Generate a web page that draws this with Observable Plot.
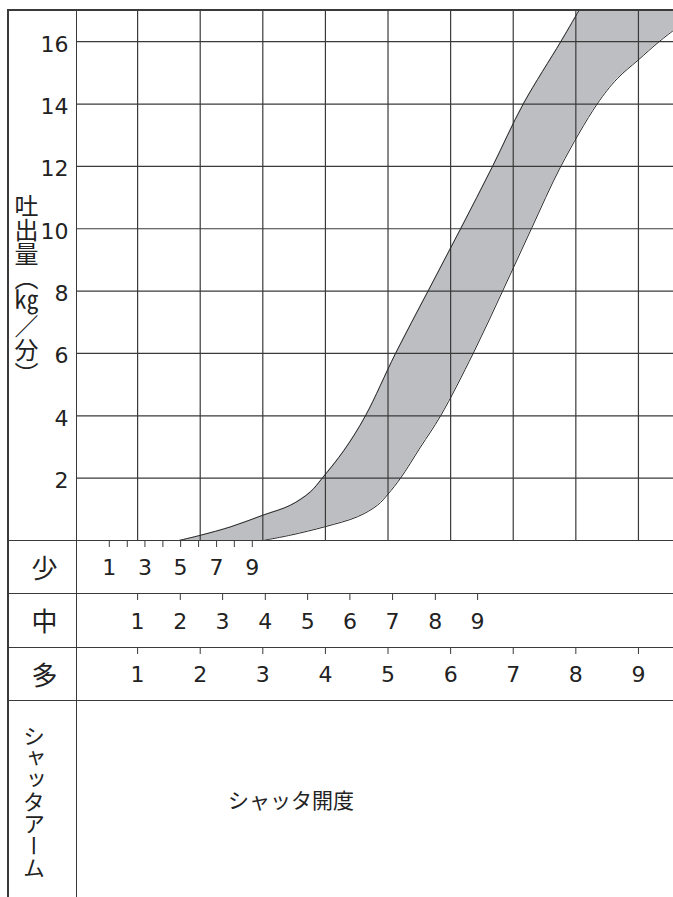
<!DOCTYPE html>
<html><head><meta charset="utf-8">
<script src="https://cdn.jsdelivr.net/npm/d3@7"></script>
<script src="https://cdn.jsdelivr.net/npm/@observablehq/plot@0.6"></script>
<style>
body{margin:0;background:#fff;}
#page{position:relative;width:673px;height:897px;overflow:hidden;background:#fff;color:#222;font-family:"DejaVu Sans",Verdana,sans-serif;}
#page svg{position:absolute;left:0;}
#page svg text{font-family:"DejaVu Sans",Verdana,sans-serif !important;}
.ln{position:absolute;background:#3a3a3a;}
.cjk{position:absolute;font-family:"Noto Sans CJK JP","Noto Sans CJK SC",sans-serif;color:#222;line-height:1;}
.vt{writing-mode:vertical-rl;}
.cell{position:absolute;display:flex;align-items:center;justify-content:center;}
</style></head>
<body><div id="page"></div>
<script>
// ---- data ----
const yTicks = [2, 4, 6, 8, 10, 12, 14, 16];
const xGrid = [1, 2, 3, 4, 5, 6, 7, 8, 9];
// band boundaries (x in 「多」 units, y in kg/分)
const upperX = [1.66, 2.01, 2.49, 3.00, 3.44, 3.76, 3.95, 4.30, 4.64, 5.12, 5.64, 6.16, 6.67, 7.16, 7.76, 8.05];
const upperY = [0, 0.17, 0.44, 0.81, 1.13, 1.56, 2.0, 2.90, 4.0, 6.0, 8.0, 10.0, 12.0, 14.0, 16.0, 17.0];
const lowerX = [3.00, 3.44, 3.99, 4.51, 4.83, 5.00, 5.20, 5.52, 5.84, 6.36, 6.83, 7.29, 7.76, 8.34, 8.66, 8.99, 9.33, 9.56];
const lowerY = [0, 0.17, 0.44, 0.76, 1.13, 1.49, 2.0, 3.0, 4.0, 6.0, 8.0, 10.0, 12.0, 14.0, 14.81, 15.4, 16.0, 16.36];
// arm scales: tick labels and their positions on the 「多」 scale
const shoLabels = [1, 2, 3, 4, 5, 6, 7, 8, 9];
const shoPos = [0.548, 0.835, 1.117, 1.404, 1.687, 1.974, 2.262, 2.545, 2.832];
const shoShown = [1, 3, 5, 7, 9];
const chuLabels = [1, 2, 3, 4, 5, 6, 7, 8, 9];
const chuPos = [1.0, 1.682, 2.358, 3.040, 3.716, 4.391, 5.073, 5.756, 6.431];
const taLabels = [1, 2, 3, 4, 5, 6, 7, 8, 9];
const taPos = [1, 2, 3, 4, 5, 6, 7, 8, 9];
const rowNames = ["少", "中", "多"];
const yTitle = "吐出量（㎏／分）";
const armTitle = "シャッタアーム";
const xTitle = "シャッタ開度";

// ---- layout ----
const W = 673;
const xDomain = [0.04, 9.56];
const yDomain = [0, 17];
const font = '"DejaVu Sans", Verdana, sans-serif';
const page = document.getElementById("page");
const common = {width: W, marginLeft: 77, marginRight: 0,
  style: {fontFamily: font, color: "#222", background: "transparent", overflow: "visible"}};

const upper = upperX.map((x, i) => ({x, y: upperY[i]}));
const lower = lowerX.map((x, i) => ({x, y: lowerY[i]}));
const xRight = xDomain[1];
const curve = "catmull-rom";

const main = Plot.plot({
  ...common, height: 540, marginTop: 10, marginBottom: 0,
  x: {domain: xDomain, axis: null},
  y: {domain: yDomain},
  marks: [
    // band: grey to the right of the upper curve, white again to the right of the lower curve
    Plot.areaX(upper, {y: "y", x1: "x", x2: xRight, curve, fill: "#bdbec1", clip: true}),
    Plot.areaX(lower, {y: "y", x1: "x", x2: xRight, curve, fill: "#ffffff", clip: true}),
    Plot.ruleX(xGrid, {stroke: "#3a3a3a", strokeWidth: 1.2}),
    Plot.ruleY(yTicks, {stroke: "#3a3a3a", strokeWidth: 1.2}),
    Plot.line(upper, {x: "x", y: "y", curve, stroke: "#2a2a2a", strokeWidth: 1, clip: true}),
    Plot.line(lower, {x: "x", y: "y", curve, stroke: "#2a2a2a", strokeWidth: 1, clip: true}),
    Plot.axisY(yTicks, {tickSize: 0, tickPadding: 9, fontSize: 22, dy: 3, label: null})
  ]
});
main.style.top = "0px";
page.appendChild(main);

const rows = [
  {top: 540, h: 53, pos: shoPos, labels: shoShown.map(k => ({x: shoPos[shoLabels.indexOf(k)], t: k}))},
  {top: 593, h: 54, pos: chuPos, labels: chuLabels.map((k, i) => ({x: chuPos[i], t: k}))},
  {top: 647, h: 53, pos: taPos, labels: taLabels.map((k, i) => ({x: taPos[i], t: k}))}
];
rows.forEach((r, i) => {
  const p = Plot.plot({
    ...common, height: r.h, marginTop: 0, marginBottom: 0,
    x: {domain: xDomain, axis: null},
    marks: [
      Plot.tickX(r.pos, {stroke: "#3a3a3a", strokeWidth: 1, insetBottom: r.h - 7}),
      Plot.text(r.labels, {x: "x", text: "t", fontSize: 22, fill: "#222", dy: 1})
    ]
  });
  p.style.top = r.top + "px";
  page.appendChild(p);
  const c = document.createElement("div");
  c.className = "cjk cell";
  Object.assign(c.style, {left: "10px", width: "69px", top: r.top + "px", height: r.h + "px", fontSize: "26px"});
  c.textContent = rowNames[i];
  page.appendChild(c);
});

// frame lines
function ln(l, t, w, h) {
  const d = document.createElement("div");
  d.className = "ln";
  Object.assign(d.style, {left: l + "px", top: t + "px", width: w + "px", height: h + "px"});
  page.appendChild(d);
}
ln(7, 9, 2, 897 - 9);      // left border
ln(7, 9, W - 7, 2);        // top border
ln(76, 10, 1.3, 887);      // column separator
[539.5, 592.5, 646.5, 699.5].forEach(t => ln(8, t, W - 8, 1.3));

// texts
const t1 = document.createElement("div");
t1.className = "cjk vt";
Object.assign(t1.style, {left: "14px", top: "194px", fontSize: "24px"});
t1.textContent = yTitle;
page.appendChild(t1);

const t2 = document.createElement("div");
t2.className = "cjk vt";
Object.assign(t2.style, {left: "23px", top: "725px", fontSize: "22px"});
t2.textContent = armTitle;
page.appendChild(t2);

const t3 = document.createElement("div");
t3.className = "cjk";
Object.assign(t3.style, {left: "228px", top: "789px", fontSize: "21px"});
t3.textContent = xTitle;
page.appendChild(t3);
</script>
</body></html>
